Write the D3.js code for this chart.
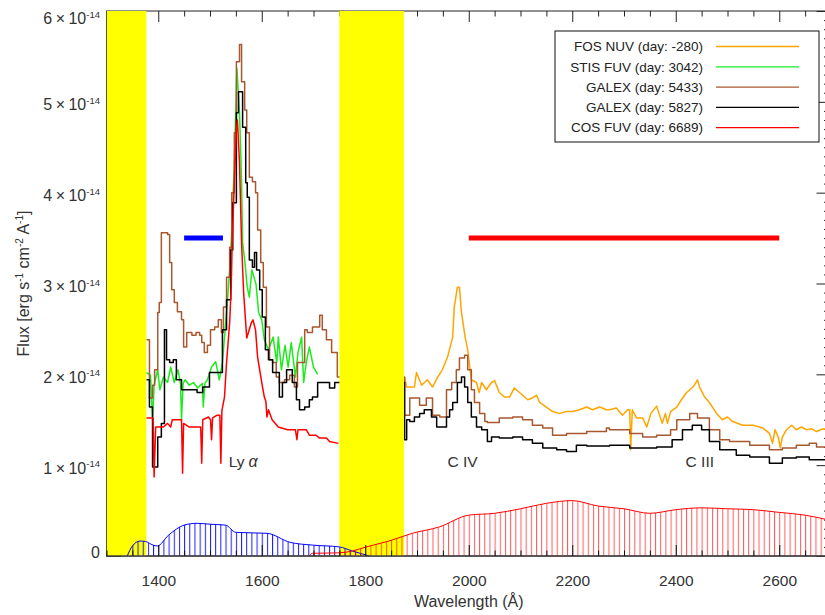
<!DOCTYPE html>
<html>
<head>
<meta charset="utf-8">
<script src="https://cdn.jsdelivr.net/npm/d3@7"></script>
<style>
  body { margin: 0; background: #fff; }
  svg text { font-family: "Liberation Sans", Arial, Helvetica, sans-serif; fill: #333; }
</style>
</head>
<body>
<div id="chart"></div>
<script>
// flux values are in units of 1e-14 erg s-1 cm-2 A-1

// FOS NUV (day -280)
var fosWave = [1876,1880,1895,1899,1909,1920,1930,1940,1949,1959,1969,1972,1978,1982,1986,1993,1998,2005,2015,2020,
  2025,2034,2044,2050,2059,2069,2079,2088,2098,2108,2114,2123,2131,2137,2150,2162,2175,2189,2201,2214,
  2228,2239,2253,2266,2272,2285,2297,2307,2311,2313,2316,2324,2336,2344,2352,2363,2374,2380,2384,2390,
  2402,2411,2421,2431,2436,2442,2446,2456,2465,2479,2490,2500,2510,2529,2550,2568,2581,2587,2592,2598,
  2602,2606,2614,2624,2633,2643,2653,2663,2672,2684,2700];
var fosFlux = [1.97,1.86,1.86,2.02,1.88,1.94,1.86,1.97,2.05,2.19,2.41,2.74,2.96,2.96,2.68,2.41,2.27,1.94,1.91,1.80,
  1.91,1.83,1.91,1.93,1.80,1.75,1.75,1.85,1.80,1.75,1.72,1.74,1.77,1.69,1.64,1.59,1.57,1.59,1.59,1.61,
  1.64,1.61,1.64,1.61,1.61,1.63,1.55,1.61,1.61,1.17,1.61,1.52,1.52,1.42,1.57,1.65,1.46,1.57,1.46,1.59,
  1.64,1.72,1.80,1.85,1.88,1.94,1.86,1.75,1.69,1.57,1.50,1.53,1.48,1.44,1.44,1.41,1.35,1.24,1.39,1.31,
  1.19,1.31,1.39,1.44,1.39,1.42,1.39,1.40,1.37,1.40,1.38];

// STIS FUV (day 3042)
var stisWave = [1377,1385,1389,1392,1399,1403,1410,1418,1424,1431,1438,1443,1445,1448,1452,1460,1468,1476,1485,1487,
  1490,1495,1503,1511,1518,1524,1532,1539,1543,1547,1552,1557,1561,1563,1567,1572,1576,1581,1589,1594,
  1600,1605,1613,1622,1629,1632,1638,1645,1651,1657,1665,1670,1677,1681,1686,1692,1700,1708];
var stisFlux = [2.02,1.99,1.50,1.88,2.05,1.83,1.97,1.91,2.08,1.91,2.05,1.90,1.50,1.90,1.94,1.88,1.91,1.85,1.90,1.64,
  1.90,1.94,2.08,2.14,1.94,2.13,2.68,3.23,3.70,4.33,5.37,4.88,4.14,3.45,3.26,2.96,2.85,3.15,2.99,2.68,
  2.60,2.38,2.27,2.41,2.13,2.41,2.05,2.32,2.08,2.35,1.97,2.24,2.41,1.91,2.13,2.30,2.08,2.00];

// GALEX (day 5433)
var galexAWave = [1377,1383,1389,1393,1399,1402,1406,1418,1422,1426,1431,1437,1445,1449,1455,1465,1473,1480,1484,1489,
  1495,1501,1509,1516,1522,1526,1532,1538,1542,1547,1551,1557,1561,1567,1571,1576,1582,1588,1592,1598,
  1603,1609,1615,1621,1628,1634,1644,1654,1663,1669,1683,1688,1698,1712,1717,1725,1735,1746,
  1876,1886,1905,1918,1930,1944,1957,1967,1976,1982,1992,1998,2005,2011,2021,2031,2036,2059,2085,2104,
  2123,2143,2162,2189,2228,2266,2272,2311,2336,2363,2390,2402,2427,2442,2465,2485,2504,2543,2581,2606,
  2633,2658,2672,2700];
var galexAFlux = [2.38,1.74,1.88,2.05,2.68,2.79,3.56,3.54,3.23,2.93,2.79,2.69,2.60,2.30,2.46,2.43,2.46,2.43,2.35,2.24,
  2.32,2.49,2.52,2.60,2.46,2.74,3.07,3.40,4.00,4.66,5.44,5.63,5.22,4.91,4.66,4.17,4.12,4.00,3.59,3.23,
  2.96,2.52,2.16,2.13,1.97,1.91,1.94,1.99,1.86,2.13,2.49,2.46,2.52,2.65,2.49,2.38,2.24,1.97,
  1.55,1.74,1.66,1.74,1.55,1.53,1.83,1.91,2.05,2.18,2.21,2.05,1.83,1.69,1.57,1.48,1.47,1.52,1.53,1.50,
  1.44,1.41,1.33,1.35,1.37,1.41,1.39,1.35,1.31,1.33,1.39,1.50,1.57,1.52,1.39,1.28,1.26,1.22,1.17,1.19,
  1.22,1.24,1.20,1.20];

// GALEX (day 5827)
var galexBWave = [1377,1383,1389,1399,1406,1412,1416,1422,1429,1435,1445,1460,1475,1486,1499,1513,1524,1532,1540,1544,
  1551,1555,1563,1569,1572,1576,1582,1586,1590,1596,1601,1607,1613,1621,1634,1640,1648,1659,1667,1673,
  1683,1692,1698,1708,1731,1741,
  1876,1880,1886,1895,1905,1914,1928,1938,1957,1963,1969,1978,1986,1992,1998,2005,2015,2025,2036,2044,
  2059,2085,2104,2123,2143,2170,2189,2208,2228,2266,2272,2311,2363,2393,2413,2432,2450,2465,2485,2517,
  2543,2581,2606,2633,2658,2700];
var galexBFlux = [1.94,1.64,0.98,1.31,1.46,2.49,2.16,2.13,2.16,1.94,1.83,1.83,1.80,1.86,2.02,2.02,2.49,2.82,3.37,3.89,
  4.88,5.11,4.72,4.11,3.95,3.26,3.18,3.34,3.15,2.93,2.63,2.27,2.16,2.02,1.75,1.91,2.05,1.91,1.72,1.61,
  1.64,1.72,1.75,1.91,1.85,1.91,
  1.28,1.50,1.48,1.53,1.57,1.61,1.53,1.42,1.53,1.61,1.69,1.91,1.97,1.86,1.69,1.53,1.42,1.39,1.26,1.31,
  1.30,1.31,1.28,1.24,1.19,1.17,1.15,1.22,1.21,1.21,1.22,1.19,1.20,1.28,1.39,1.44,1.39,1.26,1.17,1.11,
  1.09,1.02,1.08,1.09,1.06,1.06];

// COS FUV (day 6689)
var cosWave = [1377,1390,1392,1395,1410,1418,1424,1427,1445,1447,1449,1460,1482,1484,1486,1497,1501,1503,1505,1514,
  1519,1521,1523,1528,1532,1538,1541,1543,1547,1551,1553,1557,1561,1565,1571,1580,1583,1588,1592,1600,
  1605,1608,1610,1613,1620,1632,1650,1665,1668,1670,1673,1686,1692,1705,1711,1725,1731,1748];
var cosFlux = [1.52,1.52,0.87,1.42,1.42,1.46,1.42,1.50,1.50,0.91,1.46,1.42,1.42,1.02,1.50,1.53,1.50,1.28,1.52,1.55,
  1.55,1.02,1.60,1.75,2.13,2.57,2.96,3.48,4.11,4.69,4.80,4.33,3.45,2.90,2.40,2.57,2.60,2.49,2.19,1.91,
  1.75,1.70,1.53,1.61,1.50,1.42,1.39,1.39,1.28,1.39,1.39,1.39,1.33,1.33,1.30,1.30,1.26,1.24];

// GALEX filter responses (scaled)
var fuvWave = [1340,1350,1365,1375,1390,1398,1420,1450,1475,1500,1530,1550,1610,1655,1698,1750,1775,1808];
var fuvResp = [0,0.11,0.165,0.16,0.12,0.11,0.23,0.34,0.36,0.35,0.34,0.26,0.25,0.15,0.12,0.10,0.055,0];
var nuvWave = [1692,1698,1750,1775,1802,1846,1891,1943,2000,2050,2100,2150,2200,2250,2300,2350,2400,2450,2500,2550,2600,2650,2700];
var nuvResp = [0,0.03,0.035,0.055,0.10,0.165,0.25,0.32,0.45,0.47,0.52,0.58,0.61,0.55,0.52,0.47,0.51,0.53,0.52,0.51,0.48,0.45,0.39];

// yellow masked ranges, filter bands, line ids
var maskBands = [[1300, 1377], [1750, 1875]];
var filterBars = [[1450, 1525], [2000, 2600]];
var filterBarLevel = 3.5;
var lineNames = ["Ly", "C IV", "C III"];
var lineWave = [1536, 1959, 2419];

var legendLabels = ["FOS NUV (day: -280)", "STIS FUV (day: 3042)", "GALEX (day: 5433)", "GALEX (day: 5827)", "COS FUV (day: 6689)"];
var xTicks = [1400, 1600, 1800, 2000, 2200, 2400, 2600];
var yTicks = [0, 1, 2, 3, 4, 5, 6];

var series = [
  {wave: fosWave, flux: fosFlux, color: "#FFA500", step: false},
  {wave: stisWave, flux: stisFlux, color: "#1DEB1D", step: false},
  {wave: galexAWave, flux: galexAFlux, color: "#A8582F", step: true},
  {wave: galexBWave, flux: galexBFlux, color: "#000000", step: true},
  {wave: cosWave, flux: cosFlux, color: "#FF0000", step: false}
];

var width = 825, height = 615;
var svg = d3.select("#chart").append("svg")
    .attr("width", width)
    .attr("height", height);

var x = d3.scaleLinear().domain([1300, 2700]).range([106.5, 831]),
    y = d3.scaleLinear().domain([0, 6]).range([556, 11]);

var xMinor = d3.range(1300, 2701, 50).filter(function(v) { return v % 200 != 0; });
var yMinor = d3.range(0, 60).map(function(v) { return v / 10; }).filter(function(v) { return v % 1 != 0; });

var defs = svg.append("defs");
defs.append("clipPath").attr("id", "plotclip")
  .append("rect")
    .attr("x", x(1300)).attr("y", y(6))
    .attr("width", x(2700) - x(1300)).attr("height", y(0) - y(6));

// hatch patterns for the filter curves, one line every 10 A
var hatch = x(1310) - x(1300);
function makeHatch(id, color, op) {
  defs.append("pattern")
      .attr("id", id)
      .attr("patternUnits", "userSpaceOnUse")
      .attr("x", x(1300)).attr("y", 0)
      .attr("width", hatch).attr("height", height)
    .append("line")
      .attr("x1", 0.5).attr("x2", 0.5)
      .attr("y1", 0).attr("y2", height)
      .attr("stroke", color)
      .attr("stroke-opacity", op)
      .attr("stroke-width", 1);
}
makeHatch("hatchBlue", "#0000FF", 0.9);
makeHatch("hatchRed", "#FF0000", 0.65);

function noDomain(g) { g.select(".domain").remove(); }

// frame + ticks that sit underneath the yellow masks
var under = svg.append("g").attr("color", "#222");
under.append("rect")
    .attr("x", x(1300)).attr("y", y(6))
    .attr("width", x(2700) - x(1300)).attr("height", y(0) - y(6))
    .attr("fill", "none").attr("stroke", "#222").attr("stroke-width", 1);
under.append("g").attr("transform", "translate(0," + y(6) + ")")
    .call(d3.axisTop(x).tickValues(xTicks).tickSize(-11).tickFormat("")).call(noDomain);
under.append("g").attr("transform", "translate(0," + y(6) + ")")
    .call(d3.axisTop(x).tickValues(xMinor).tickSize(-5.5).tickFormat("")).call(noDomain);
under.append("g").attr("transform", "translate(" + x(1300) + ",0)")
    .call(d3.axisLeft(y).tickValues(yTicks).tickSize(-14.5).tickFormat("")).call(noDomain);
under.append("g").attr("transform", "translate(" + x(1300) + ",0)")
    .call(d3.axisLeft(y).tickValues(yMinor).tickSize(-7).tickFormat("")).call(noDomain);
under.append("g").attr("transform", "translate(" + x(2700) + ",0)")
    .call(d3.axisRight(y).tickValues(yTicks).tickSize(-14.5).tickFormat("")).call(noDomain);
under.append("g").attr("transform", "translate(" + x(2700) + ",0)")
    .call(d3.axisRight(y).tickValues(yMinor).tickSize(-7).tickFormat("")).call(noDomain);

// spectra
var plot = svg.append("g").attr("clip-path", "url(#plotclip)");
series.forEach(function(s) {
  var line = d3.line()
      .x(function(d) { return x(d[0]); })
      .y(function(d) { return y(d[1]); })
      .curve(s.step ? d3.curveStepAfter : d3.curveLinear);
  plot.append("path")
      .datum(d3.zip(s.wave, s.flux))
      .attr("fill", "none")
      .attr("stroke", s.color)
      .attr("stroke-width", 1.5)
      .attr("stroke-linejoin", "round")
      .attr("d", line);
});

// yellow masked regions
plot.selectAll(".mask")
    .data(maskBands)
  .enter().append("rect")
    .attr("class", "mask")
    .attr("x", function(d) { return x(d[0]); })
    .attr("width", function(d) { return x(d[1]) - x(d[0]); })
    .attr("y", y(6))
    .attr("height", y(0) - y(6))
    .attr("fill", "#FFFF00");

// filter curves
var filterArea = d3.area()
    .x(function(d) { return x(d[0]); })
    .y0(y(0))
    .y1(function(d) { return y(d[1]); })
    .curve(d3.curveMonotoneX);
var filterLine = d3.line()
    .x(function(d) { return x(d[0]); })
    .y(function(d) { return y(d[1]); })
    .curve(d3.curveMonotoneX);

[[fuvWave, fuvResp, "hatchBlue", "#0000FF"], [nuvWave, nuvResp, "hatchRed", "#FF0000"]].forEach(function(f) {
  var pts = d3.zip(f[0], f[1]);
  plot.append("path").datum(pts).attr("fill", "url(#" + f[2] + ")").attr("d", filterArea);
  plot.append("path").datum(pts).attr("fill", "none").attr("stroke", f[3]).attr("stroke-width", 1).attr("d", filterLine);
});

// filter band bars
plot.selectAll(".bar")
    .data(filterBars)
  .enter().append("line")
    .attr("x1", function(d) { return x(d[0]); })
    .attr("x2", function(d) { return x(d[1]); })
    .attr("y1", y(filterBarLevel))
    .attr("y2", y(filterBarLevel))
    .attr("stroke", function(d, i) { return i == 0 ? "#0000FF" : "#FF0000"; })
    .attr("stroke-width", 5);

// bottom axis on top of everything
var bottom = svg.append("g").attr("color", "#111");
bottom.append("line")
    .attr("x1", x(1300)).attr("x2", x(2700))
    .attr("y1", y(0)).attr("y2", y(0))
    .attr("stroke", "#444").attr("stroke-width", 1.5);
bottom.append("g").attr("transform", "translate(0," + y(0) + ")")
    .call(d3.axisBottom(x).tickValues(xMinor).tickSize(-5.5).tickFormat("")).call(noDomain);
bottom.append("g").attr("transform", "translate(0," + y(0) + ")")
    .call(d3.axisBottom(x).tickValues(xTicks).tickSizeInner(-11).tickSizeOuter(0).tickPadding(19).tickFormat(d3.format("d")))
    .call(noDomain)
    .selectAll("text")
      .attr("font-size", 15.5)
      .attr("font-family", null)
      .style("fill", "#333");

// y tick labels with exponent
var ylab = svg.append("g");
yTicks.forEach(function(k) {
  var off = k == 0 ? 1.5 : (k == 6 ? 13 : 8.5);
  var t = ylab.append("text")
      .attr("x", 100)
      .attr("y", y(k) + off)
      .attr("text-anchor", "end")
      .attr("font-size", 16);
  if (k == 0) {
    t.text("0");
  } else {
    t.append("tspan").text(k);
    t.append("tspan").attr("dx", 3.5).text("\u00d7");
    t.append("tspan").attr("dx", 3.5).text("10");
    t.append("tspan").attr("dy", -6.5).attr("font-size", 9.5).text("-14");
  }
});

// axis titles
svg.append("text")
    .attr("x", (x(1300) + x(2700)) / 2)
    .attr("y", 607)
    .attr("text-anchor", "middle")
    .attr("font-size", 16)
    .text("Wavelength (\u00c5)");

var yt = svg.append("text")
    .attr("transform", "translate(29," + (y(0) + y(6)) / 2 + ") rotate(-90)")
    .attr("text-anchor", "middle")
    .attr("font-size", 16);
yt.append("tspan").text("Flux [erg s");
yt.append("tspan").attr("dy", -6).attr("font-size", 10).text("-1");
yt.append("tspan").attr("dy", 6).text(" cm");
yt.append("tspan").attr("dy", -6).attr("font-size", 10).text("-2");
yt.append("tspan").attr("dy", 6).text(" A");
yt.append("tspan").attr("dy", -6).attr("font-size", 10).text("-1");
yt.append("tspan").attr("dy", 6).text("]");

// line identifications
lineNames.forEach(function(name, i) {
  var t = svg.append("text")
      .attr("x", x(lineWave[i]))
      .attr("y", y(0.98))
      .attr("font-size", 15.5)
      .text(name);
  if (i == 0) {
    t.append("tspan").attr("dx", 4).attr("font-style", "italic").attr("font-size", 16).text("\u03b1");
  }
});

// legend
var legend = svg.append("g").attr("transform", "translate(555,31)");
legend.append("rect")
    .attr("width", 264).attr("height", 111)
    .attr("fill", "#fff").attr("stroke", "#111").attr("stroke-width", 1);
legendLabels.forEach(function(lab, i) {
  var ly = 15.5 + i * 20.3;
  legend.append("text")
      .attr("x", 148).attr("y", ly)
      .attr("dy", "0.35em")
      .attr("text-anchor", "end")
      .attr("font-size", 13.5)
      .style("fill", "#222")
      .text(lab);
  legend.append("line")
      .attr("x1", 161).attr("x2", 244)
      .attr("y1", ly).attr("y2", ly)
      .attr("stroke", series[i].color)
      .attr("stroke-width", 1.3);
});
</script>
</body>
</html>
